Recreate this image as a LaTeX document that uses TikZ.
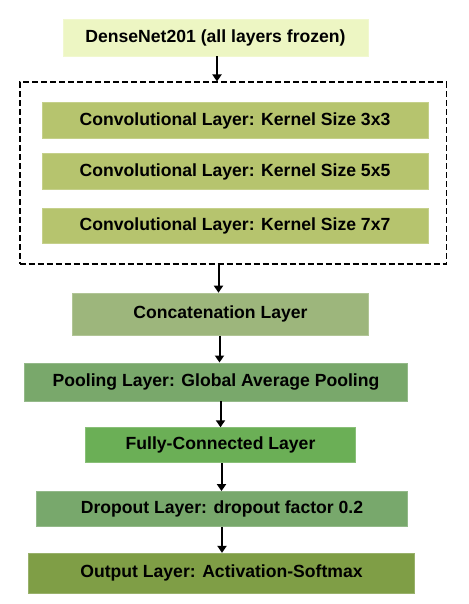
\documentclass[tikz,border=0pt]{standalone}
\usepackage{fontspec}
\setmainfont{Liberation Sans}
\usepackage{xcolor}
\usepackage{tikz}
\usetikzlibrary{positioning,arrows.meta,fit,backgrounds,calc}
\definecolor{DNBase}{HTML}{EDF6C3}
\definecolor{DNConv}{HTML}{B6C46E}
\definecolor{DNConcat}{HTML}{9DB67C}
\definecolor{DNPool}{HTML}{79A86B}
\definecolor{DNDense}{HTML}{6BAF56}
\definecolor{DNDrop}{HTML}{78A86C}
\definecolor{DNOut}{HTML}{7F9E46}
\tikzset{
  dnbox/.style={
    rectangle,
    line width=0.8pt,
    align=center,
    inner sep=2pt,
    font=\fontsize{17.6}{20}\selectfont\bfseries,
    text=black
  },
  dnbase/.style={dnbox,fill=DNBase,draw=DNBase!80!white},
  dnconv/.style={dnbox,fill=DNConv,draw=DNConv!80!white,minimum width=386pt,minimum height=36pt},
  dnconcat/.style={dnbox,fill=DNConcat,draw=DNConcat!80!white},
  dnpool/.style={dnbox,fill=DNPool,draw=DNPool!80!white},
  dndense/.style={dnbox,fill=DNDense,draw=DNDense!80!white},
  dndrop/.style={dnbox,fill=DNDrop,draw=DNDrop!80!white},
  dnout/.style={dnbox,fill=DNOut,draw=DNOut!80!white},
  dnarrow/.style={-{Triangle[length=7pt,width=9pt]},line width=2pt,draw=black},
  dnframe/.style={draw=black,line width=1.8pt,dash pattern=on 6pt off 3pt},
}
\begin{document}
\begin{tikzpicture}[x=1pt,y=-1pt]
  \useasboundingbox (0,0) rectangle (468,604);

  \node[dnbase,minimum width=305pt,minimum height=37pt] (base) at (215.5,37.5)
    {DenseNet201 (all layers frozen)};

  \node[dnconv,below=46pt of base,xshift=19.5pt] (conv3)
    {Convolutional Layer: Kernel Size 3x3};
  \node[dnconv,below=14pt of conv3] (conv5)
    {Convolutional Layer: Kernel Size 5x5};
  \node[dnconv,below=18pt of conv5,minimum height=35pt] (conv7)
    {Convolutional Layer: Kernel Size 7x7};

  \node[dnframe,fit=(conv3)(conv5)(conv7),inner xsep=20pt,inner ysep=20pt,
    xshift=-2pt] (frame) {};

  \node[dnconcat,below=28pt of frame,xshift=-12.5pt,minimum width=296pt,minimum height=42pt] (concat)
    {Concatenation Layer};
  \node[dnpool,below=27pt of concat,xshift=-4.5pt,minimum width=383pt,minimum height=38pt] (pool)
    {Pooling Layer: Global Average Pooling};
  \node[dndense,below=26pt of pool,xshift=4.5pt,minimum width=270pt,minimum height=35pt] (dense)
    {Fully-Connected Layer};
  \node[dndrop,below=28pt of dense,xshift=1.5pt,minimum width=371pt,minimum height=35pt] (drop)
    {Dropout Layer: dropout factor 0.2};
  \node[dnout,below=26pt of drop,xshift=-0.5pt,minimum width=386pt,minimum height=40pt] (out)
    {Output Layer: Activation-Softmax};

  \draw[dnarrow] ([xshift=1.5pt]base.south) -- ([xshift=1.5pt]base.south |- frame.north);
  \draw[dnarrow] ([xshift=-2pt]concat.north |- frame.south) -- ([xshift=-2pt]concat.north);
  \draw[dnarrow] ([xshift=-1pt]concat.south) -- ([xshift=-1pt]concat.south |- pool.north);
  \draw[dnarrow] ([xshift=4.5pt]pool.south) -- ([xshift=4.5pt]pool.south |- dense.north);
  \draw[dnarrow] ([xshift=1pt]dense.south) -- ([xshift=1pt]dense.south |- drop.north);
  \draw[dnarrow] (drop.south) -- (drop.south |- out.north);
\end{tikzpicture}
\end{document}
